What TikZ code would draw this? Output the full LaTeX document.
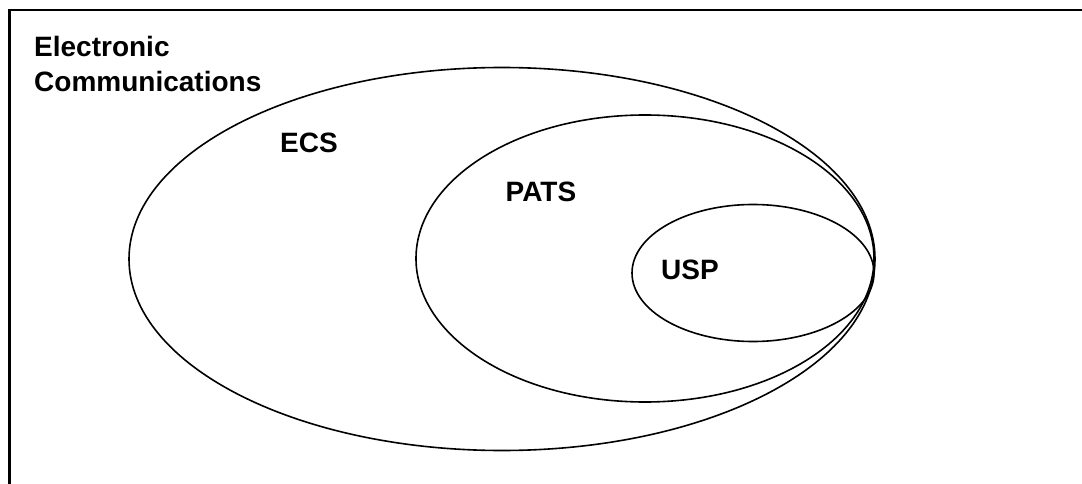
\documentclass[tikz,border=0pt]{standalone}
\usepackage{fontspec}
\setmainfont{Liberation Sans}
\usetikzlibrary{shapes.geometric}
\begin{document}
\begin{tikzpicture}[x=1pt,y=-1pt,
  setell/.style={draw, ellipse, line width=1.6pt, inner sep=0pt},
  lbl/.style={font=\fontsize{28}{32}\selectfont\bfseries, inner sep=0pt},
  frame/.style={line width=2.4pt}]
\useasboundingbox (0,0) rectangle (1082,484);
\coordinate (fTR) at (1082,10);
\coordinate (fTL) at (9.5,10);
\coordinate (fBL) at (9.5,484);
\draw[frame] (fTR) -- (fTL) -- (fBL);
\node[setell, minimum width=746pt, minimum height=383pt] (ecs) at (502,259) {};
\node[setell, minimum width=458pt, minimum height=287pt] (pats) at (645,258.5) {};
\node[setell, minimum width=242pt, minimum height=137pt] (usp) at (753,273) {};
\node[lbl, anchor=base west] (el1) at (34,57) {Electronic};
\node[lbl, anchor=base west] (el2) at (34,92) {Communications};
\node[lbl] (ecsl) at (309,143) {ECS};
\node[lbl] (patsl) at (541,192) {PATS};
\node[lbl] (uspl) at (690,270) {USP};
\end{tikzpicture}
\end{document}
